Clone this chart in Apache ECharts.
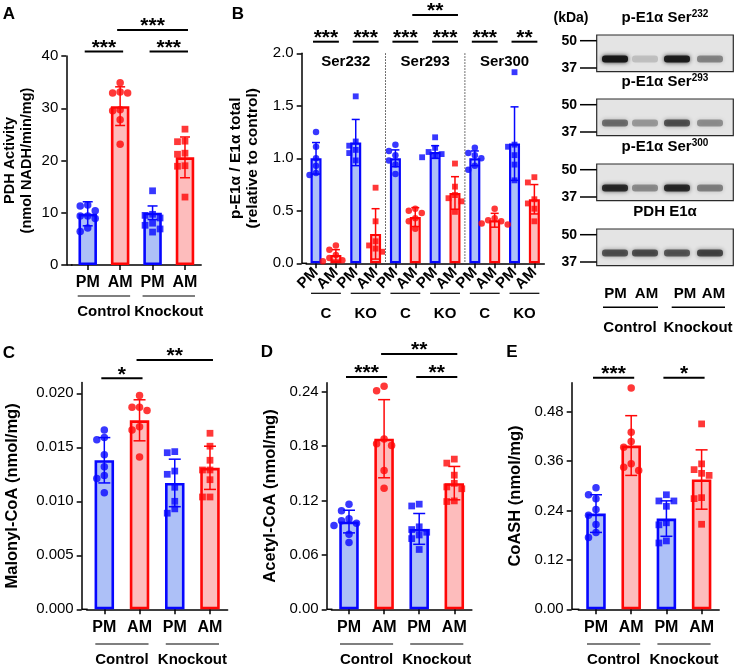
<!DOCTYPE html>
<html><head><meta charset="utf-8">
<script src="https://cdn.jsdelivr.net/npm/echarts@6/dist/echarts.min.js"></script>
<style>html,body{margin:0;padding:0;background:#fff}#c{width:740px;height:667px}</style>
</head><body><div id="c"></div>
<script>
// ---------------- DATA ----------------
const groupCats = ['PM', 'AM', 'PM', 'AM'];
const groupNames = ['Control', 'Knockout'];

// Panel A: PDH activity
const pdhMean = [9.8, 30.4, 10.0, 20.6];
const pdhSD = [2.3, 3.7, 1.3, 3.9];
const pdhPoints = [
  [11.3, 10.4, 11.5, 9.4, 8.9, 9.4, 7.1, 6.4],
  [34.9, 32.9, 33.1, 32.9, 29.5, 29.7, 27.8, 23.1],
  [14.2, 9.7, 9.5, 9.0, 8.0, 7.6, 6.9, 6.3],
  [26.0, 23.7, 23.6, 21.4, 21.2, 19.0, 18.9, 13.0]
];

// Panel B: p-E1a / E1a total
const bCats = ['PM','AM','PM','AM','PM','AM','PM','AM','PM','AM','PM','AM'];
const bGroupNames = ['C','KO','C','KO','C','KO'];
const bSiteNames = ['Ser232','Ser293','Ser300'];
const pE1Mean = [1.00, 0.08, 1.15, 0.28, 1.00, 0.44, 1.06, 0.67, 1.00, 0.41, 1.14, 0.61];
const pE1SD = [0.15, 0.05, 0.22, 0.24, 0.08, 0.09, 0.06, 0.155, 0.07, 0.066, 0.35, 0.14];
const pE1Points = [
  [1.25, 1.11, 1.00, 0.93, 0.86, 0.84],
  [0.17, 0.13, 0.08, 0.05, 0.03, 0.02],
  [1.59, 1.16, 1.12, 1.08, 1.05, 0.98],
  [0.72, 0.40, 0.21, 0.17, 0.14, 0.11],
  [1.13, 1.07, 1.03, 0.98, 0.94, 0.85],
  [0.52, 0.50, 0.48, 0.43, 0.40, 0.33],
  [1.20, 1.10, 1.06, 1.04, 1.02, 1.01],
  [0.95, 0.73, 0.65, 0.62, 0.59, 0.49],
  [1.10, 1.05, 1.03, 1.00, 0.93, 0.89],
  [0.52, 0.43, 0.41, 0.40, 0.38, 0.37],
  [1.82, 1.13, 1.11, 1.03, 0.94, 0.79],
  [0.82, 0.77, 0.61, 0.57, 0.52, 0.40]
];

// Panel C: Malonyl-CoA
const malMean = [0.0138, 0.0175, 0.0117, 0.0131];
const malSD = [0.0021, 0.0019, 0.0022, 0.0020];
const malPoints = [
  [0.0166, 0.0159, 0.0157, 0.0143, 0.0132, 0.0124, 0.0121, 0.0108],
  [0.0198, 0.0187, 0.0187, 0.0184, 0.0169, 0.0166, 0.0141],
  [0.0145, 0.0146, 0.0125, 0.0128, 0.0113, 0.0100, 0.0089, 0.0093],
  [0.0163, 0.0151, 0.0138, 0.0129, 0.0129, 0.0120, 0.0104, 0.0104]
];

// Panel D: Acetyl-CoA
const acMean = [0.0968, 0.1882, 0.0887, 0.1392];
const acSD = [0.0125, 0.0431, 0.0170, 0.0184];
const acPoints = [
  [0.116, 0.1086, 0.0998, 0.095, 0.0976, 0.0924, 0.0829, 0.0736],
  [0.2412, 0.246, 0.1878, 0.1826, 0.1807, 0.153, 0.1335],
  [0.116, 0.114, 0.091, 0.088, 0.085, 0.082, 0.078, 0.066],
  [0.1613, 0.1657, 0.148, 0.139, 0.133, 0.135, 0.1189, 0.1196]
];

// Panel E: CoASH
const coaMean = [0.2323, 0.3975, 0.2202, 0.315];
const coaSD = [0.0457, 0.0725, 0.043, 0.072];
const coaPoints = [
  [0.295, 0.2686, 0.2782, 0.242, 0.228, 0.2057, 0.1863, 0.1742],
  [0.537, 0.4298, 0.407, 0.3935, 0.353, 0.337, 0.345],
  [0.278, 0.263, 0.263, 0.25, 0.21, 0.205, 0.166, 0.161],
  [0.45, 0.353, 0.339, 0.33, 0.325, 0.271, 0.2686, 0.2064]
];

// Tick values
const ticksA = [0, 10, 20, 30, 40];
const ticksB = [0, 0.5, 1.0, 1.5, 2.0];
const ticksC = [0, 0.005, 0.010, 0.015, 0.020];
const ticksD = [0, 0.06, 0.12, 0.18, 0.24];
const ticksE = [0, 0.12, 0.24, 0.36, 0.48];

// Significance: [from, to, label, level]
const sigA = [[0,1,'***',1],[1,3,'***',2],[2,3,'***',1]];
const sigB = [[0,1,'***',1],[2,3,'***',1],[4,5,'***',1],[6,7,'***',1],[8,9,'***',1],[10,11,'**',1],[5,7,'**',2]];
const sigC = [[0,1,'*',1],[1,3,'**',2]];
const sigD = [[0,1,'***',1],[1,3,'**',2],[2,3,'**',1]];
const sigE = [[0,1,'***',1],[2,3,'*',1]];

// Western blot
const blotTitles = [['p-E1α Ser','232'],['p-E1α Ser','293'],['p-E1α Ser','300'],['PDH E1α','']];
const blotMarkers = ['50','37'];
const blotBands = [
  [0.95, 0.16, 0.90, 0.40],
  [0.50, 0.32, 0.62, 0.36],
  [0.82, 0.38, 0.82, 0.42],
  [0.62, 0.64, 0.60, 0.68]
];

// ---------------- STYLE / LAYOUT ----------------
const FONT = '"Liberation Sans", Arial, Helvetica, sans-serif';
const BLUE = '#0606ff', RED = '#ff0606', BLUE_F = '#adc0f7', RED_F = '#fdbcbc';

const gp = (n) => [[0,1,n[0]],[2,3,n[1]]];
const panels = [
  {letter:['A',9,14], grid:{left:71.5, top:56, width:129.7, height:209}, yOff:5.2, max:40, ticks:ticksA,
   fmt:v=>String(v), name:'PDH Activity\n(nmol NADH/min/mg)', nameGap:31, nameSize:14.5,
   cats:groupCats, mean:pdhMean, sd:pdhSD, pts:pdhPoints, sig:sigA, ctrl:k=>k<2,
   barW:18.5, bw:2.6, sym:7.5, cap:5, sigY:[51.5,30], grp:gp(groupNames), grpLineY:296, grpTextY:311.7, grpPad:10, rotate:0},
  {letter:['B',238,14], grid:{left:306.1, top:53.3, width:238.2, height:210}, yOff:4.4, max:2, ticks:ticksB,
   fmt:v=>v.toFixed(1), name:'p-E1α / E1α total\n(relative to control)', nameGap:40, nameSize:15.5,
   cats:bCats, mean:pE1Mean, sd:pE1SD, pts:pE1Points, sig:sigB, ctrl:k=>Math.floor(k/2)%2===0,
   barW:11, bw:2.2, sym:6.5, cap:4, sigY:[41.7,15],
   grp:bGroupNames.map((n,g)=>[2*g,2*g+1,n]), grpLineY:293.3, grpTextY:314.3, grpPad:5, rotate:45},
  {letter:['C',9,353], grid:{left:86.7, top:382.5, width:140.9, height:226.8}, yOff:5, max:0.021, ticks:ticksC,
   fmt:v=>v.toFixed(3), name:'Malonyl-CoA (nmol/mg)', nameGap:61, nameSize:16.5,
   cats:groupCats, mean:malMean, sd:malSD, pts:malPoints, sig:sigC, ctrl:k=>k<2,
   barW:19.5, bw:2.6, sym:7.5, cap:6, sigY:[378.3,360], grp:gp(groupNames), grpLineY:644, grpTextY:660, grpPad:9, rotate:0},
  {letter:['D',267,352], grid:{left:331.45, top:382.7, width:140.4, height:226.6}, yOff:4.75, max:0.25, ticks:ticksD,
   fmt:v=>v.toFixed(2), name:'Acetyl-CoA (nmol/mg)', nameGap:48, nameSize:16.5,
   cats:groupCats, mean:acMean, sd:acSD, pts:acPoints, sig:sigD, ctrl:k=>k<2,
   barW:19.5, bw:2.6, sym:7.5, cap:6, sigY:[377,354], grp:gp(groupNames), grpLineY:644, grpTextY:660, grpPad:9, rotate:0},
  {letter:['E',512,352], grid:{left:578.4, top:382.7, width:140.8, height:226.6}, yOff:6.7, max:0.55, ticks:ticksE,
   fmt:v=>v.toFixed(2), name:'CoASH (nmol/mg)', nameGap:48, nameSize:16.5,
   cats:groupCats, mean:coaMean, sd:coaSD, pts:coaPoints, sig:sigE, ctrl:k=>k<2,
   barW:19.5, bw:2.6, sym:7.5, cap:6, sigY:[377.7], grp:gp(groupNames), grpLineY:644, grpTextY:660, grpPad:9, rotate:0}
];

const chart = echarts.init(document.getElementById('c'), null, {renderer:'canvas', width:740, height:667});

const opt = {animation:false, backgroundColor:'#fff', textStyle:{fontFamily:FONT},
  grid:[], xAxis:[], yAxis:[], series:[]};

panels.forEach((p,i)=>{
  opt.grid.push(Object.assign({outerBoundsMode:'none', containLabel:false}, p.grid));
  opt.xAxis.push({gridIndex:i, type:'category', data:p.cats,
    axisLine:{show:true, lineStyle:{color:'#000', width:1.5}},
    axisTick:{show:true, alignWithLabel:true, length:5, lineStyle:{color:'#000', width:1.5}},
    axisLabel:{interval:0, color:'#000', fontWeight:'bold', fontSize: p.rotate ? 15 : 16, fontFamily:FONT,
      margin: p.rotate ? 7 : 10, rotate:p.rotate},
    splitLine:{show:false}});
  opt.yAxis.push({gridIndex:i, type:'value', min:0, max:p.max, offset:p.yOff,
    splitLine:{show:false},
    axisLine:{show:true, lineStyle:{color:'#000', width:1.5}},
    axisTick:{show:true, length:5, lineStyle:{color:'#000', width:1.5}, customValues:p.ticks},
    axisLabel:{color:'#000', fontSize:15, fontFamily:FONT, margin:8, formatter:p.fmt, customValues:p.ticks},
    name:p.name, nameLocation:'middle', nameGap:p.nameGap,
    nameTextStyle:{color:'#000', fontWeight:'bold', fontSize:p.nameSize, fontFamily:FONT, lineHeight:17}});
  const isPM = k => k%2===0;
  opt.series.push({type:'bar', xAxisIndex:i, yAxisIndex:i, barWidth:p.barW, silent:true, z:2,
    data:p.mean.map((m,k)=>({value:m, itemStyle:{color:isPM(k)?BLUE_F:RED_F, borderColor:isPM(k)?BLUE:RED, borderWidth:p.bw}}))});
  opt.series.push({type:'custom', xAxisIndex:i, yAxisIndex:i, silent:true, z:3,
    data:p.mean.map((m,k)=>[k, m, p.sd[k]]),
    renderItem:(params, api)=>{
      const k = api.value(0), m = api.value(1), s = api.value(2);
      const x = api.coord([k, m])[0];
      const yt = api.coord([k, m+s])[1], yb = api.coord([k, Math.max(0, m-s)])[1];
      const st = {stroke: isPM(k)?BLUE:RED, lineWidth:1.5};
      return {type:'group', children:[
        {type:'line', shape:{x1:x, y1:yt, x2:x, y2:yb}, style:st},
        {type:'line', shape:{x1:x-p.cap, y1:yt, x2:x+p.cap, y2:yt}, style:st},
        {type:'line', shape:{x1:x-p.cap, y1:yb, x2:x+p.cap, y2:yb}, style:st}
      ]};
    }});
  opt.series.push({id:'sc'+i, type:'scatter', xAxisIndex:i, yAxisIndex:i, silent:true, z:4, data:[]});
});

chart.setOption(opt);

// simple beeswarm: horizontal offsets so markers don't overlap
function swarm(ys, s){
  const order = ys.map((y,i)=>i).sort((a,b)=>ys[a]-ys[b]);
  const placed = [], off = new Array(ys.length).fill(0);
  for (const i of order){
    const cands = [0];
    for (let k=1;k<8;k++){ cands.push(-k*s, k*s); }
    for (const c of cands){
      if (placed.every(q => Math.hypot(q.x-c, q.y-ys[i]) >= s*0.98)){
        off[i] = c; placed.push({x:c, y:ys[i]}); break;
      }
    }
  }
  return off;
}

const scUpdates = panels.map((p,i)=>{
  const data = [];
  p.pts.forEach((arr,k)=>{
    const ys = arr.map(v => chart.convertToPixel({gridIndex:i}, [k, v])[1]);
    const off = swarm(ys, p.sym);
    arr.forEach((v,j)=>data.push({value:[k,v], symbolOffset:[off[j],0],
      symbol: p.ctrl(k)?'circle':'rect', symbolSize: p.ctrl(k)?p.sym:p.sym*0.9,
      itemStyle:{color: k%2===0?BLUE:RED}}));
  });
  return {id:'sc'+i, data};
});

// ---------------- annotations ----------------
const els = [];
const T = (x,y,text,o={}) => els.push({type:'text', x, y, z:10, style:Object.assign({text, fill:'#000', font:`bold 15px ${FONT}`, align:'center', verticalAlign:'middle'}, o)});
const L = (x1,y1,x2,y2,w=2,o={}) => els.push({type:'line', z:10, shape:{x1,y1,x2,y2}, style:Object.assign({stroke:'#000', lineWidth:w}, o)});

panels.forEach((p,i)=>{
  const cx = k => chart.convertToPixel({gridIndex:i}, [k, 0])[0];
  const y0 = chart.convertToPixel({gridIndex:i}, [0, 0])[1];
  L(p.grid.left - p.yOff, y0, p.grid.left + 1, y0, 1.5);
  T(p.letter[1], p.letter[2], p.letter[0], {font:`bold 17px ${FONT}`});
  p.sig.forEach(([a,b,s,lvl])=>{
    const y = p.sigY[lvl-1], x1 = cx(a)-3, x2 = cx(b)+3;
    L(x1, y, x2, y, 2);
    T((x1+x2)/2, y-3.5, s, {font:`bold 21px ${FONT}`});
  });
  p.grp.forEach(([a,b,s])=>{
    L(cx(a)-p.grpPad, p.grpLineY, cx(b)+p.grpPad, p.grpLineY, 1.2);
    T((cx(a)+cx(b))/2, p.grpTextY, s);
  });
  if (i===1){
    const top = chart.convertToPixel({gridIndex:i}, [0, p.max])[1];
    [3,7].forEach(k=>{
      const x = (cx(k)+cx(k+1))/2;
      L(x, top, x, y0, 1, {stroke:'#444', lineDash:[1.5,1.5]});
    });
    bSiteNames.forEach((n,s)=> T((cx(4*s)+cx(4*s+3))/2, 62, n));
  }
});

// Western blot panel
const blotTop = [35, 99, 164, 229], boxL = 596.7, boxW = 136.6, boxH = 36.7;
const laneX = [615, 645, 677, 710];
T(571, 18, '(kDa)', {font:`bold 14px ${FONT}`});
blotTitles.forEach((t,b)=>{
  const top = blotTop[b];
  els.push({type:'text', x:665, y:top-17, z:10, style:{
    text: t[1] ? `{m|${t[0]}}{s|${t[1]}}` : `{m|${t[0]}}`,
    rich:{m:{fontSize:15, fontWeight:'bold', fontFamily:FONT, fill:'#000', lineHeight:18},
          s:{fontSize:10, fontWeight:'bold', fontFamily:FONT, fill:'#000', verticalAlign:'top', lineHeight:12}},
    align:'center', verticalAlign:'middle'}});
  els.push({type:'rect', z:8, shape:{x:boxL, y:top, width:boxW, height:boxH},
    style:{fill:'#e4e4e4', stroke:'#2a2a2a', lineWidth:1.2}});
  blotBands[b].forEach((a,l)=>{
    els.push({type:'rect', z:9, shape:{x:laneX[l]-13, y:top+24-3.5, width:26, height:7, r:3},
      style:{fill:`rgba(20,20,20,${a})`, shadowBlur:4, shadowColor:`rgba(20,20,20,${a})`}});
  });
  [[blotMarkers[0], top+5.7],[blotMarkers[1], top+33]].forEach(([mk,y])=>{
    T(577, y, mk, {font:`bold 14px ${FONT}`, align:'right'});
    L(580, y, boxL, y, 1.5);
  });
});
const laneLabelX = [615.5, 646.5, 685, 713.5];
groupCats.forEach((c,l)=> T(laneLabelX[l], 294, c));
L(603, 307.3, 658, 307.3, 1.5);
L(671.7, 307.3, 725, 307.3, 1.5);
T(630, 328.3, groupNames[0]);
T(698, 328.3, groupNames[1]);

chart.setOption({series:scUpdates, graphic:{elements:els}});
</script>
</body></html>
